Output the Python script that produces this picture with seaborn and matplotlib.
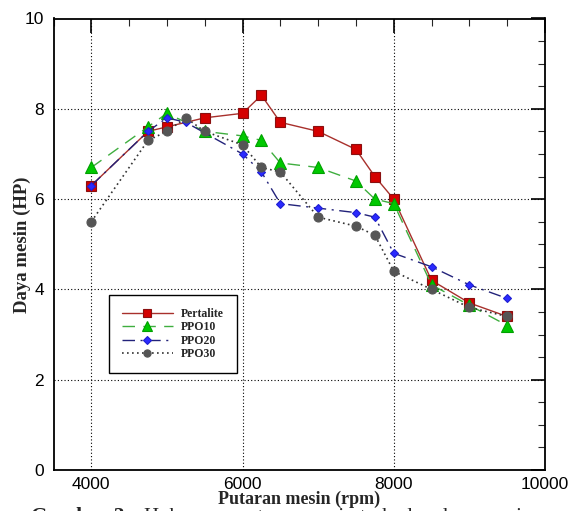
import matplotlib
matplotlib.use("Agg")
import matplotlib.pyplot as plt
import seaborn as sns
import pandas as pd
from matplotlib.ticker import MultipleLocator

# ---- data ----
rpm_pertalite = [4000, 4750, 5000, 5500, 6000, 6250, 6500, 7000, 7500, 7750, 8000, 8500, 9000, 9500]
hp_pertalite = [6.3, 7.5, 7.6, 7.8, 7.9, 8.3, 7.7, 7.5, 7.1, 6.5, 6.0, 4.2, 3.7, 3.4]

rpm_ppo10 = [4000, 4750, 5000, 5500, 6000, 6250, 6500, 7000, 7500, 7750, 8000, 8500, 9000, 9500]
hp_ppo10 = [6.7, 7.6, 7.9, 7.5, 7.4, 7.3, 6.8, 6.7, 6.4, 6.0, 5.9, 4.1, 3.65, 3.2]

rpm_ppo20 = [4000, 4750, 5000, 5250, 6000, 6250, 6500, 7000, 7500, 7750, 8000, 8500, 9000, 9500]
hp_ppo20 = [6.3, 7.5, 7.8, 7.7, 7.0, 6.6, 5.9, 5.8, 5.7, 5.6, 4.8, 4.5, 4.1, 3.8]

rpm_ppo30 = [4000, 4750, 5000, 5250, 5500, 6000, 6250, 6500, 7000, 7500, 7750, 8000, 8500, 9000, 9500]
hp_ppo30 = [5.5, 7.3, 7.5, 7.8, 7.5, 7.2, 6.7, 6.6, 5.6, 5.4, 5.2, 4.4, 4.0, 3.6, 3.4]

series_names = ["Pertalite", "PPO10", "PPO20", "PPO30"]
x_ticks = [4000, 6000, 8000, 10000]
y_ticks = [0, 2, 4, 6, 8, 10]
x_label = "Putaran mesin (rpm)"
y_label = "Daya mesin (HP)"
caption_head = "Gambar 3."
caption_body = "Hubungan putaran mesin terhadap daya mesin"

sns.set_theme(style="white")
plt.rcParams['font.family'] = ['Liberation Sans', 'DejaVu Sans']

fig = plt.figure(figsize=(5.71, 5.11), dpi=100)
ax = fig.add_axes([53.5 / 571, 41 / 511, 491.5 / 571, 451.5 / 511])

styles = [
    dict(color="#a8302c", marker="s", markersize=7, mfc="#d40000", mec="#8a1010",
         dashes=None, lw=1.0),
    dict(color="#3fae3f", marker="^", markersize=8.5, mfc="#00c800", mec="#00a000",
         dashes=(9, 6), lw=1.0),
    dict(color="#22227a", marker="D", markersize=4.5, mfc="#2a2aff", mec="#2020d0",
         dashes=(9, 4, 1.5, 4), lw=1.0),
    dict(color="#333333", marker="o", markersize=6.5, mfc="#555555", mec="#555555",
         dashes=(1, 2), lw=1.2),
]
datasets = [(rpm_pertalite, hp_pertalite), (rpm_ppo10, hp_ppo10),
            (rpm_ppo20, hp_ppo20), (rpm_ppo30, hp_ppo30)]

for name, (xs, ys), st in zip(series_names, datasets, styles):
    df = pd.DataFrame({"rpm": xs, "hp": ys})
    sns.lineplot(data=df, x="rpm", y="hp", ax=ax, label=name, color=st["color"],
                 marker=st["marker"], markersize=st["markersize"],
                 markerfacecolor=st["mfc"], markeredgecolor=st["mec"],
                 markeredgewidth=0.8, linewidth=st["lw"], zorder=3)
    line = ax.lines[-1]
    if st["dashes"] is not None:
        line.set_dashes(st["dashes"])

ax.set_xlim(3500, 10000)
ax.set_ylim(0, 10)
ax.set_xticks(x_ticks)
ax.set_yticks(y_ticks)
ax.xaxis.set_minor_locator(MultipleLocator(500))
ax.yaxis.set_minor_locator(MultipleLocator(0.5))
ax.tick_params(which="major", direction="in", length=10, width=1.2, top=True, right=True,
               labelsize=12.5, colors="black")
ax.tick_params(which="minor", direction="in", length=5, width=0.8, top=True, right=True)
ax.tick_params(axis="x", pad=5)
ax.tick_params(axis="y", pad=7)
for lab in ax.get_xticklabels() + ax.get_yticklabels():
    lab.set_fontfamily("Liberation Sans")

ax.grid(True, which="major", linestyle=(0, (1, 2)), color="black", linewidth=0.8)
for sp in ax.spines.values():
    sp.set_color("black")
    sp.set_linewidth(1.3)
    sp.set_visible(True)

ax.set_xlabel(x_label, fontfamily="Liberation Serif", fontweight="bold",
              fontsize=13, labelpad=-1)
ax.set_ylabel(y_label, fontfamily="Liberation Serif", fontweight="bold",
              fontsize=13.5, labelpad=-5)

leg = ax.legend(loc="upper left", bbox_to_anchor=(0.113, 0.388), frameon=True,
                fancybox=False, edgecolor="black", framealpha=1,
                prop={"family": "Liberation Serif", "weight": "bold", "size": 8.5},
                handlelength=4.3, handletextpad=0.7, labelspacing=0.12,
                borderpad=1.1, borderaxespad=0, markerscale=0.8)
leg.get_frame().set_linewidth(1.0)

fig.text(31 / 571, -0.021, caption_head, fontfamily="Liberation Serif",
         fontweight="bold", fontsize=15.5, va="baseline", ha="left")
fig.text(144 / 571, -0.021, caption_body, fontfamily="Liberation Serif",
         fontsize=15, va="baseline", ha="left")

fig.savefig("out.png", dpi=100)
